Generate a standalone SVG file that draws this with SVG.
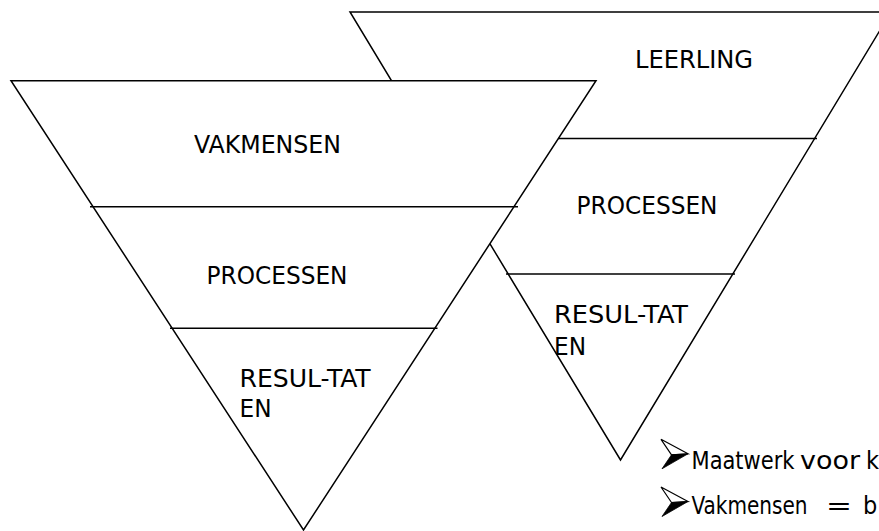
<svg xmlns="http://www.w3.org/2000/svg" width="879" height="531" viewBox="0 0 879 531">
<style>
.shape{fill:#fff;stroke:#000;stroke-width:1.5;stroke-linejoin:miter}
.div{stroke:#000;stroke-width:1.5;fill:none}
.lbl{font-family:"DejaVu Sans Condensed","DejaVu Sans",sans-serif;font-stretch:condensed;font-size:25px;fill:#000}
</style>
<defs>
<g id="arrowBullet">
<polygon points="0,0 27,14.5 10.5,15.5" fill="#fff" stroke="#000" stroke-width="1.2" stroke-linejoin="miter"/>
<polygon points="10.5,15.5 27,14.5 1,29.5" fill="#000" stroke="#000" stroke-width="0.8"/>
</g>
</defs>
<rect width="879" height="531" fill="#fff"/>
<g id="triangle-leerling">
<polygon class="shape" points="350,12 891,12 620.5,460"/>
<line class="div" x1="424" y1="138.5" x2="817" y2="138.5"/>
<line class="div" x1="506" y1="274" x2="735" y2="274"/>
<text class="lbl" x="635" y="68.3" textLength="118" lengthAdjust="spacingAndGlyphs">LEERLING</text>
<text class="lbl" x="576.5" y="214.3" textLength="141" lengthAdjust="spacingAndGlyphs">PROCESSEN</text>
<text class="lbl" x="554" y="323.3" textLength="134" lengthAdjust="spacingAndGlyphs">RESUL-TAT</text>
<text class="lbl" x="554" y="355" textLength="32" lengthAdjust="spacingAndGlyphs">EN</text>
</g>
<g id="triangle-vakmensen">
<polygon class="shape" points="11,80.7 596,80.7 303.5,530"/>
<line class="div" x1="90" y1="206.7" x2="518" y2="206.7"/>
<line class="div" x1="170" y1="328.3" x2="437.5" y2="328.3"/>
<text class="lbl" x="194" y="153.3" textLength="147" lengthAdjust="spacingAndGlyphs">VAKMENSEN</text>
<text class="lbl" x="206.5" y="284.3" textLength="141" lengthAdjust="spacingAndGlyphs">PROCESSEN</text>
<text class="lbl" x="239.5" y="387.3" textLength="131" lengthAdjust="spacingAndGlyphs">RESUL-TAT</text>
<text class="lbl" x="239.5" y="416.7" textLength="32" lengthAdjust="spacingAndGlyphs">EN</text>
</g>
<g id="bullets">
<use href="#arrowBullet" x="661" y="439.3"/>
<text class="lbl" y="469.3"><tspan x="691.5" textLength="103" lengthAdjust="spacingAndGlyphs">Maatwerk</tspan> <tspan x="800" textLength="60" lengthAdjust="spacingAndGlyphs">voor</tspan> <tspan x="866">k</tspan></text>
<use href="#arrowBullet" x="661" y="487"/>
<text class="lbl" y="514"><tspan x="691.5" textLength="116" lengthAdjust="spacingAndGlyphs">Vakmensen</tspan> <tspan x="826" textLength="26" lengthAdjust="spacingAndGlyphs">=</tspan> <tspan x="863">b</tspan></text>
</g>
</svg>
